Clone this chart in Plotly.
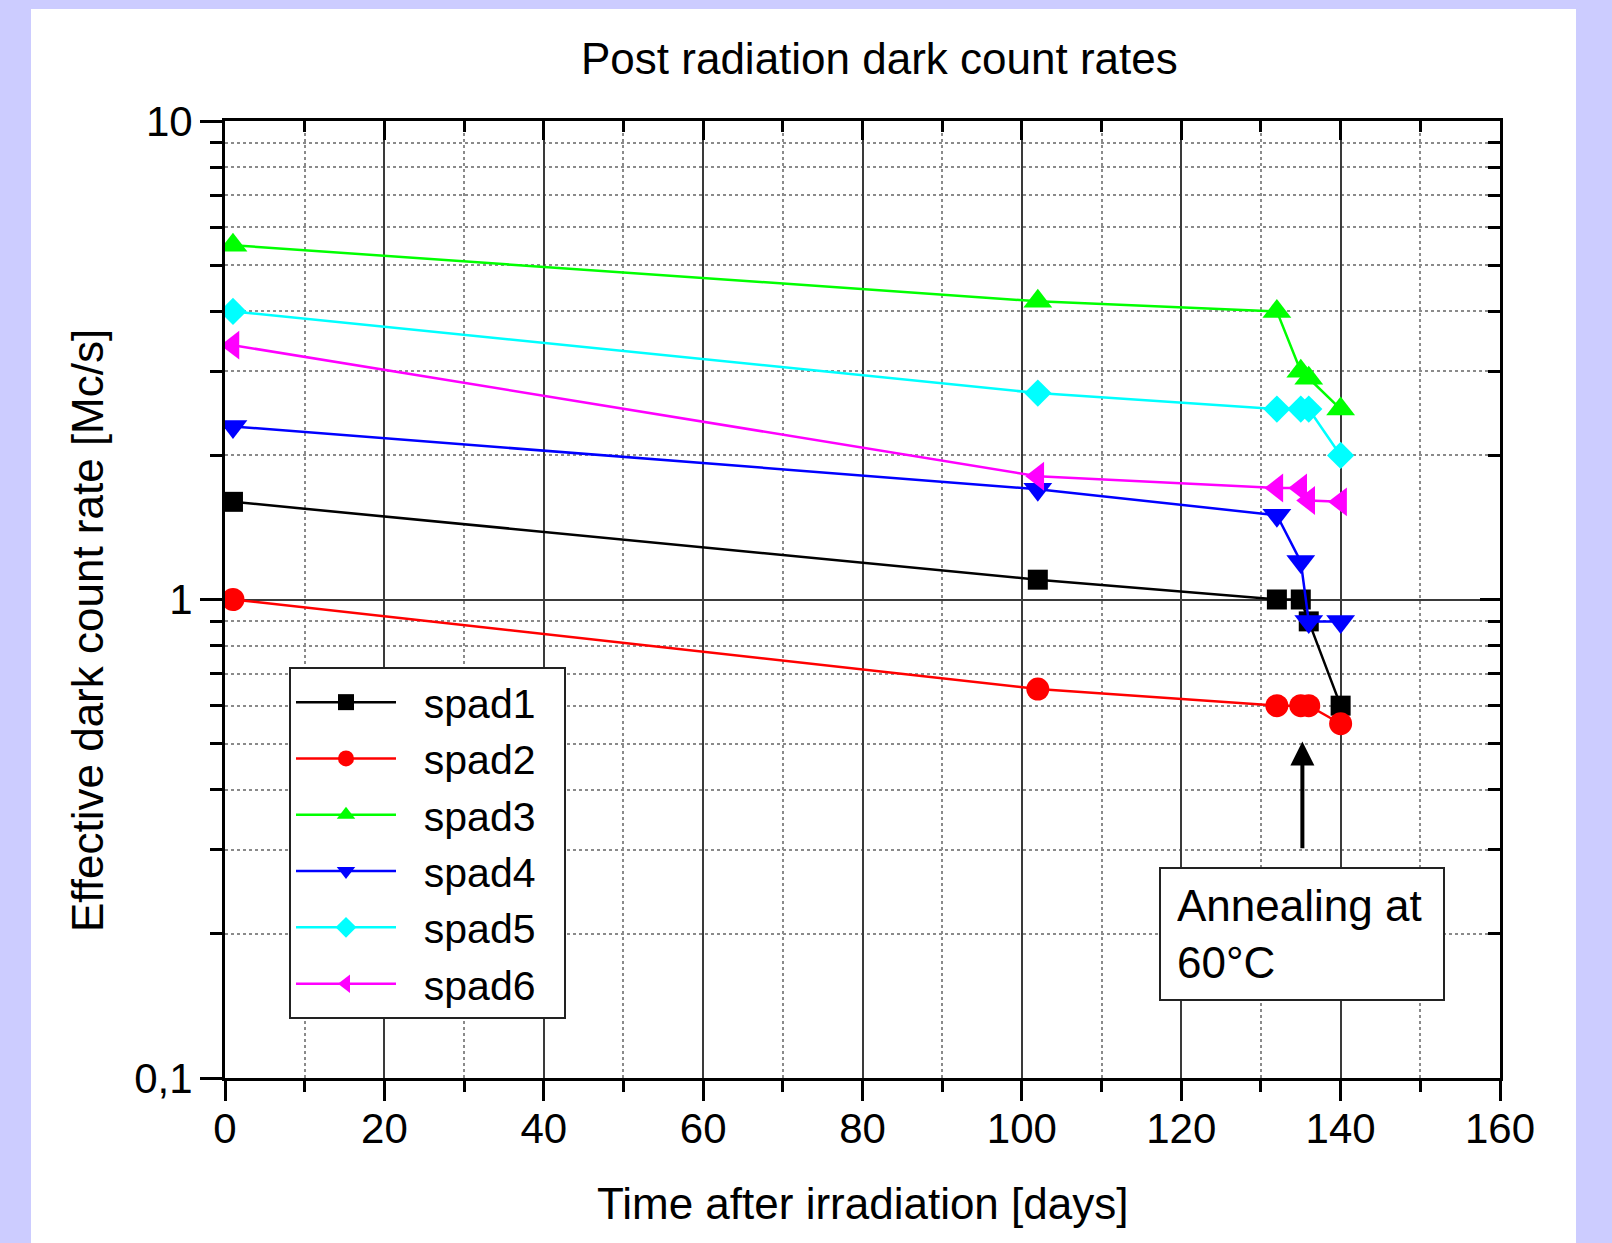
import math
import plotly.graph_objects as go

# ---- data ----
days = [1, 102, 132, 135, 136, 140]
spad1 = [1.6, 1.1, 1.0, 1.0, 0.9, 0.6]
spad2 = [1.0, 0.65, 0.6, 0.6, 0.6, 0.55]
spad3 = [5.5, 4.2, 4.0, 3.0, 2.9, 2.5]
spad4 = [2.3, 1.7, 1.5, 1.2, 0.9, 0.9]
spad5 = [4.0, 2.7, 2.5, 2.5, 2.5, 2.0]
spad6 = [3.4, 1.81, 1.71, 1.71, 1.61, 1.6]

series_names = ["spad1", "spad2", "spad3", "spad4", "spad5", "spad6"]
series_values = [spad1, spad2, spad3, spad4, spad5, spad6]
colors = ["#000000", "#ff0000", "#00ff00", "#0000ff", "#00ffff", "#ff00ff"]
symbols = ["square", "circle", "triangle-up", "triangle-down", "diamond", "triangle-left"]
sizes = [20, 23, 25, 25, 21, 25]

y_major = [0.1, 1, 10]
y_major_text = ["0,1", "1", "10"]
y_minor = [k * 0.1 for k in range(2, 10)] + [float(k) for k in range(2, 10)]

FONT = "Liberation Sans, Arial, sans-serif"
NB = "\u00a0"

fig = go.Figure()
for name, vals, col, sym, sz in zip(series_names, series_values, colors, symbols, sizes):
    fig.add_trace(go.Scatter(
        x=days, y=vals, name=NB * 2 + name + NB * 2, mode="lines+markers",
        line=dict(color=col, width=2.5),
        marker=dict(symbol=sym, size=sz, color=col, line=dict(width=0)),
        cliponaxis=True,
    ))

# dummy traces to activate mirror axes with inside ticks
fig.add_trace(go.Scatter(x=[], y=[], xaxis="x2", yaxis="y", showlegend=False, hoverinfo="skip"))
fig.add_trace(go.Scatter(x=[], y=[], xaxis="x", yaxis="y2", showlegend=False, hoverinfo="skip"))

L, R, T, B = 225, 112, 121, 165
W, H = 1612, 1243
pw, ph = W - L - R, H - T - B

def px_x(px):
    return (px - L) / pw

def px_y(py):
    return 1 - (py - T) / ph

fig.update_layout(
    width=W, height=H,
    margin=dict(l=L, r=R, t=T, b=B, pad=0),
    paper_bgcolor="#ccccff",
    plot_bgcolor="white",
    font=dict(family=FONT, size=42, color="black"),
    showlegend=True,
    legend=dict(
        x=px_x(289), y=px_y(667), xanchor="left", yanchor="top",
        bgcolor="white", bordercolor="#222", borderwidth=2,
        font=dict(size=41, family=FONT),
        itemwidth=100,
        tracegroupgap=0,
    ),
    xaxis=dict(
        range=[0, 160], tickmode="linear", tick0=0, dtick=20,
        ticks="outside", ticklen=20, tickwidth=3, tickcolor="black",
        showline=True, linecolor="black", linewidth=3, mirror=True,
        showgrid=True, gridcolor="#3a3a3a", gridwidth=1.5,
        zeroline=False, ticklabelstandoff=-8,
        tickfont=dict(size=42),
        minor=dict(dtick=10, tick0=0, ticks="outside", ticklen=11, tickwidth=3, tickcolor="black",
                   showgrid=True, gridcolor="#8a8a8a", griddash="dot", gridwidth=1.5),
    ),
    yaxis=dict(
        type="log", range=[-1, 1],
        tickmode="array", tickvals=y_major, ticktext=y_major_text,
        ticks="outside", ticklen=22, tickwidth=3, tickcolor="black",
        showline=True, linecolor="black", linewidth=3, mirror=True,
        showgrid=True, gridcolor="#3a3a3a", gridwidth=1.5,
        zeroline=False, ticklabelstandoff=-1,
        tickfont=dict(size=42),
        minor=dict(tickvals=y_minor, ticks="outside", ticklen=12, tickwidth=3, tickcolor="black",
                   showgrid=True, gridcolor="#8a8a8a", griddash="dot", gridwidth=1.5),
    ),
    xaxis2=dict(
        overlaying="x", side="top", anchor="y", range=[0, 160],
        tickmode="linear", tick0=0, dtick=20,
        ticks="inside", ticklen=19, tickwidth=3, tickcolor="black",
        showticklabels=False, showgrid=False, showline=False, zeroline=False,
        minor=dict(dtick=10, tick0=0, ticks="inside", ticklen=11, tickwidth=3, tickcolor="black", showgrid=False),
    ),
    yaxis2=dict(
        overlaying="y", side="right", anchor="x", type="log", range=[-1, 1],
        tickmode="array", tickvals=y_major,
        ticks="inside", ticklen=20, tickwidth=3, tickcolor="black",
        showticklabels=False, showgrid=False, showline=False, zeroline=False,
        minor=dict(tickvals=y_minor, ticks="inside", ticklen=12, tickwidth=3, tickcolor="black", showgrid=False),
    ),
    shapes=[dict(type="rect", xref="paper", yref="paper", layer="below",
                 x0=px_x(31), x1=px_x(1576), y0=px_y(1300), y1=px_y(9),
                 fillcolor="white", line=dict(width=0))],
)

annotations = [
    dict(text="Post radiation dark count rates", xref="paper", yref="paper",
         x=px_x(879), y=px_y(59), xanchor="center", yanchor="middle",
         showarrow=False, font=dict(size=44)),
    dict(text="Time after irradiation [days]", xref="paper", yref="paper",
         x=px_x(862), y=px_y(1203), xanchor="center", yanchor="middle",
         showarrow=False, font=dict(size=44)),
    dict(text="Effective dark count rate [Mc/s]", xref="paper", yref="paper",
         x=px_x(87), y=px_y(631), xanchor="center", yanchor="middle",
         textangle=-90, showarrow=False, font=dict(size=44)),
    dict(text="Annealing at<br>60°C", xref="x", yref="y",
         x=135.15, y=math.log10(0.2), xanchor="center", yanchor="middle",
         showarrow=False, align="left", width=250, height=98, borderpad=16,
         bordercolor="#222", borderwidth=2, bgcolor="white", font=dict(size=44)),
    dict(text="", xref="x", yref="y", axref="x", ayref="y",
         x=135.2, y=math.log10(0.505), ax=135.2, ay=math.log10(0.3),
         showarrow=True, arrowhead=2, arrowsize=1.2, arrowwidth=4, arrowcolor="black"),
]
fig.update_layout(annotations=annotations)

fig.write_html(
    "out.html",
    config={"displayModeBar": False},
    post_script="document.body.style.margin='0';document.body.style.background='#ccccff';",
)
